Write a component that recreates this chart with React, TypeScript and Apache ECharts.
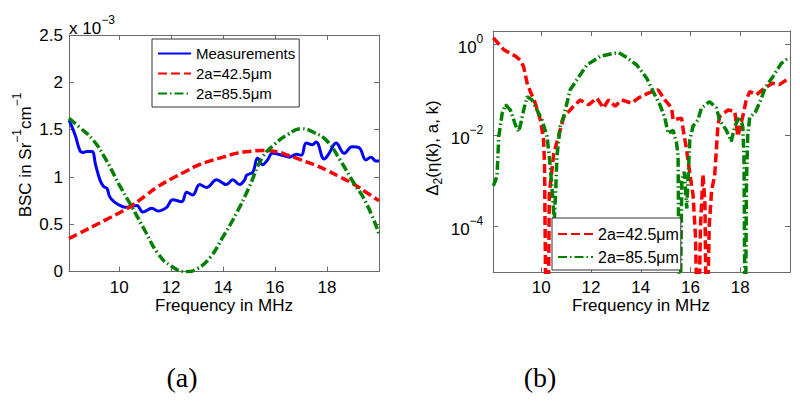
import React, { useEffect, useRef } from 'react';
import * as echarts from 'echarts';

// ---------- Panel (a): BSC (x 10^-3) vs frequency ----------
const measFreq = [8.07, 8.3, 8.49, 8.62, 8.76, 8.95, 9.1, 9.26, 9.4, 9.53, 9.64, 9.8, 10.03, 10.25, 10.49, 10.68, 10.91, 11.26, 11.49, 11.83, 12.06, 12.41, 12.6, 12.83, 13.1, 13.37, 13.75, 14.13, 14.37, 14.64, 14.83, 14.91, 15.14, 15.33, 15.52, 15.71, 15.9, 16.28, 16.55, 16.82, 17.01, 17.2, 17.43, 17.58, 17.89, 18.08, 18.35, 18.66, 18.96, 19.23, 19.5, 19.69, 19.88, 20];
const measBsc = [1.6, 1.45, 1.28, 1.26, 1.27, 1.27, 1.12, 0.97, 0.9, 0.88, 0.79, 0.74, 0.7, 0.68, 0.69, 0.7, 0.63, 0.67, 0.64, 0.68, 0.76, 0.74, 0.84, 0.81, 0.92, 0.89, 0.97, 0.92, 0.97, 0.92, 0.97, 1.02, 1.05, 1.2, 1.13, 1.18, 1.25, 1.23, 1.21, 1.24, 1.23, 1.36, 1.34, 1.37, 1.19, 1.25, 1.36, 1.25, 1.32, 1.31, 1.18, 1.21, 1.17, 1.17];

const modelFreqA = [8.07, 8.5, 9, 9.5, 10, 10.5, 11, 11.5, 12, 12.5, 13, 13.5, 14, 14.5, 15, 15.5, 16, 16.5, 17, 17.5, 18, 18.5, 19, 19.5, 20];
const bsc425 = [0.35, 0.41, 0.48, 0.55, 0.62, 0.7, 0.8, 0.9, 0.98, 1.05, 1.12, 1.17, 1.21, 1.25, 1.27, 1.28, 1.27, 1.23, 1.18, 1.13, 1.07, 1.0, 0.93, 0.84, 0.75];
const greenFreqA = [8.07, 8.5, 9, 9.5, 10, 10.5, 11, 11.5, 12, 12.6, 13, 13.5, 14, 14.5, 15, 15.5, 16, 16.5, 17, 17.5, 18, 18.5, 19, 19.5, 20];
const bsc855 = [1.62, 1.52, 1.39, 1.18, 0.92, 0.68, 0.43, 0.19, 0.06, 0.0, 0.03, 0.15, 0.37, 0.61, 0.89, 1.2, 1.35, 1.45, 1.51, 1.47, 1.38, 1.18, 0.95, 0.73, 0.4];

// ---------- Panel (b): Delta_2 (log scale) ----------
const redFreqB = [8.07, 8.3, 8.49, 8.75, 8.96, 9.15, 9.29, 9.43, 9.56, 9.76, 9.96, 10.03, 10.09, 10.13, 10.2, 10.27, 10.32, 10.5, 10.7, 10.9, 11.23, 11.56, 11.9, 12.23, 12.5, 12.7, 12.97, 13.23, 13.64, 13.9, 14.3, 14.7, 14.97, 15.24, 15.3, 15.64, 15.71, 15.84, 15.97, 16.1, 16.2, 16.3, 16.4, 16.5, 16.58, 16.65, 16.75, 16.85, 16.97, 17.04, 17.1, 17.17, 17.5, 17.78, 17.9, 18.1, 18.24, 18.38, 18.65, 18.98, 19.3, 19.57, 19.9, 20];
const delta425 = [1.38, 1.0, 0.76, 0.63, 0.55, 0.45, 0.32, 0.14, 0.091, 0.051, 0.022, 0.013, 0.0081, 0.0025, 1e-7, 1e-7, 0.0005, 0.004, 0.01, 0.025, 0.04, 0.06, 0.047, 0.066, 0.04, 0.06, 0.044, 0.06, 0.051, 0.066, 0.085, 0.1, 0.06, 0.04, 0.022, 0.024, 0.013, 0.0049, 0.0015, 0.0005, 0.000063, 1e-7, 0.0001, 0.0014, 0.00032, 1e-7, 0.0001, 0.00063, 0.0013, 0.0049, 0.016, 0.026, 0.036, 0.034, 0.0095, 0.026, 0.06, 0.091, 0.078, 0.11, 0.14, 0.13, 0.17, 0.17];
const greenFreqB = [8.07, 8.15, 8.22, 8.29, 8.43, 8.56, 8.76, 8.96, 9.09, 9.16, 9.29, 9.43, 9.63, 9.83, 10.03, 10.23, 10.29, 10.36, 10.45, 10.52, 10.58, 10.63, 10.76, 10.9, 11.16, 11.5, 11.83, 12.36, 12.9, 13.1, 13.37, 13.84, 14.24, 14.5, 14.77, 14.97, 15.1, 15.3, 15.44, 15.5, 15.56, 15.65, 15.75, 15.85, 15.97, 16.1, 16.3, 16.44, 16.77, 17.04, 17.17, 17.44, 17.64, 17.78, 17.98, 18.1, 18.15, 18.2, 18.25, 18.3, 18.38, 18.6, 18.8, 19.0, 19.3, 19.65, 19.85, 20];
const delta855 = [0.00079, 0.001, 0.0013, 0.0095, 0.031, 0.047, 0.036, 0.017, 0.012, 0.017, 0.036, 0.071, 0.06, 0.036, 0.022, 0.0095, 0.0049, 0.0021, 0.0005, 0.00013, 0.00063, 0.0035, 0.016, 0.026, 0.1, 0.19, 0.35, 0.54, 0.63, 0.66, 0.54, 0.35, 0.18, 0.091, 0.047, 0.024, 0.011, 0.013, 0.0068, 0.0035, 1e-7, 0.001, 0.0016, 0.00025, 0.0079, 0.016, 0.022, 0.04, 0.055, 0.04, 0.022, 0.013, 0.0074, 0.016, 0.026, 0.016, 0.0032, 1e-7, 0.001, 0.01, 0.025, 0.032, 0.056, 0.11, 0.19, 0.38, 0.46, 0.5];

const xTicks = [10, 12, 14, 16, 18];
const logTicks = [1e-4, 1e-2, 1];
const NAME_MEAS = 'Measurements';
const NAME_425 = '2a=42.5\u03bcm';
const NAME_855 = '2a=85.5\u03bcm';

const FONT = '"Liberation Sans", Arial, Helvetica, sans-serif';
const SERIF = '"Liberation Serif", "Times New Roman", serif';
const AXIS_COLOR = '#6a6a6a';

const zip = (xs: number[], ys: number[]) => xs.map((x, i) => [x, ys[i]]);

const supRich = {
  a: { fontSize: 17, fontFamily: FONT, color: '#000', lineHeight: 23, verticalAlign: 'bottom' },
  b: { fontSize: 12, fontFamily: FONT, color: '#000', lineHeight: 12, verticalAlign: 'top' },
};

function xAxisCfg(grid: number, pos: 'top' | 'bottom') {
  return {
    type: 'value',
    gridIndex: grid,
    position: pos,
    min: 8.07,
    max: 20,
    axisLine: { show: true, onZero: false, lineStyle: { color: AXIS_COLOR, width: 1 } },
    axisTick: { show: true, inside: true, length: 5, customValues: xTicks, lineStyle: { color: AXIS_COLOR } },
    axisLabel: pos === 'bottom'
      ? { show: true, customValues: xTicks, margin: 7, fontSize: 17, fontFamily: FONT, color: '#000' }
      : { show: false },
    splitLine: { show: false },
  };
}

function linYCfg(pos: 'left' | 'right') {
  return {
    type: 'value',
    gridIndex: 0,
    position: pos,
    min: 0,
    max: 2.5,
    interval: 0.5,
    axisLine: { show: true, onZero: false, lineStyle: { color: AXIS_COLOR, width: 1 } },
    axisTick: { show: true, inside: true, length: 5, lineStyle: { color: AXIS_COLOR } },
    axisLabel: pos === 'left'
      ? { show: true, margin: 6, fontSize: 17, fontFamily: FONT, color: '#000' }
      : { show: false },
    splitLine: { show: false },
  };
}

function logYCfg(pos: 'left' | 'right') {
  return {
    type: 'log',
    logBase: 10,
    gridIndex: 1,
    position: pos,
    min: 1e-5,
    max: 1.95,
    axisLine: { show: true, onZero: false, lineStyle: { color: AXIS_COLOR, width: 1 } },
    axisTick: { show: true, inside: true, length: 5, customValues: logTicks, lineStyle: { color: AXIS_COLOR } },
    minorTick: { show: false },
    axisLabel: pos === 'left'
      ? {
          show: true,
          customValues: logTicks,
          margin: 10,
          formatter: (v: number) => {
            const e = Math.round(Math.log10(v));
            return '{a|10}{b|' + (e < 0 ? '\u2212' + -e : String(e)) + '}';
          },
          rich: supRich,
        }
      : { show: false },
    splitLine: { show: false },
  };
}

export default function App() {
  const ref = useRef<HTMLDivElement>(null);
  useEffect(() => {
    if (!ref.current) return;
    const chart = echarts.init(ref.current, null, { renderer: 'svg' });
    const redDash = [9, 4];
    const greenDash = [9, 3, 1.5, 3];
    const legendCommon = {
      orient: 'vertical',
      itemHeight: 14,
      borderColor: '#333', borderWidth: 1, borderRadius: 0,
      backgroundColor: '#fff', selectedMode: false,
      itemStyle: { opacity: 0, borderWidth: 0 },
    };
    const option: any = {
      animation: false,
      backgroundColor: '#fff',
      textStyle: { fontFamily: FONT },
      grid: [
        { left: 69, top: 35, width: 310, height: 236.7, outerBoundsMode: 'none', containLabel: false },
        { left: 493.3, top: 31, width: 296.7, height: 241.3, outerBoundsMode: 'none', containLabel: false },
      ],
      xAxis: [xAxisCfg(0, 'bottom'), xAxisCfg(0, 'top'), xAxisCfg(1, 'bottom'), xAxisCfg(1, 'top')],
      yAxis: [linYCfg('left'), linYCfg('right'), logYCfg('left'), logYCfg('right')],
      legend: [
        {
          ...legendCommon,
          left: 152, top: 39,
          data: [NAME_MEAS, NAME_425, NAME_855],
          itemWidth: 33, itemGap: 5,
          padding: [7, 4, 6, 5],
          textStyle: { fontSize: 15, fontFamily: FONT, color: '#000' },
        },
        {
          ...legendCommon,
          left: 552, top: 218,
          data: [NAME_425, NAME_855],
          itemWidth: 35, itemGap: 7,
          padding: [8, 2, 5, 5],
          textStyle: { fontSize: 16, fontFamily: FONT, color: '#000' },
        },
      ],
      series: [
        {
          name: NAME_MEAS, type: 'line', xAxisIndex: 0, yAxisIndex: 0,
          data: zip(measFreq, measBsc), symbol: 'none', smooth: 0.4,
          lineStyle: { color: '#0000ff', width: 3 }, itemStyle: { color: '#0000ff' },
        },
        {
          name: NAME_425, type: 'line', xAxisIndex: 0, yAxisIndex: 0,
          data: zip(modelFreqA, bsc425), symbol: 'none', smooth: true,
          lineStyle: { color: '#ff0000', width: 3.5, type: redDash, cap: 'butt' }, itemStyle: { color: '#ff0000' },
        },
        {
          name: NAME_855, type: 'line', xAxisIndex: 0, yAxisIndex: 0,
          data: zip(greenFreqA, bsc855), symbol: 'none', smooth: true,
          lineStyle: { color: '#008000', width: 3.5, type: greenDash, cap: 'butt' }, itemStyle: { color: '#008000' },
        },
        {
          name: NAME_425, type: 'line', xAxisIndex: 2, yAxisIndex: 2,
          data: zip(redFreqB, delta425), symbol: 'none', clip: true,
          lineStyle: { color: '#ff0000', width: 3.5, type: redDash, cap: 'butt' }, itemStyle: { color: '#ff0000' },
        },
        {
          name: NAME_855, type: 'line', xAxisIndex: 2, yAxisIndex: 2,
          data: zip(greenFreqB, delta855), symbol: 'none', clip: true,
          lineStyle: { color: '#008000', width: 3.5, type: greenDash, cap: 'butt' }, itemStyle: { color: '#008000' },
        },
      ],
      graphic: [
        {
          type: 'text', left: 69, top: 14,
          style: { text: '{a|x 10}{b|\u22123}', rich: supRich },
        },
        {
          type: 'text', x: 22, y: 155, rotation: Math.PI / 2,
          style: {
            text: '{a|BSC in Sr}{b|\u22121}{a|cm}{b|\u22121}', rich: supRich,
            align: 'center', verticalAlign: 'middle',
          },
        },
        {
          type: 'text', x: 434, y: 148, rotation: Math.PI / 2,
          style: {
            text: '{a|\u0394}{s|2}{a|(\u03b7(k), a, k)}',
            rich: {
              a: { fontSize: 17, fontFamily: FONT, color: '#000', lineHeight: 20, verticalAlign: 'top' },
              s: { fontSize: 12, fontFamily: FONT, color: '#000', lineHeight: 12, verticalAlign: 'bottom' },
            },
            align: 'center', verticalAlign: 'middle',
          },
        },
        {
          type: 'text', x: 224, y: 305,
          style: { text: 'Frequency in MHz', fontSize: 17, fontFamily: FONT, fill: '#000', align: 'center', verticalAlign: 'middle' },
        },
        {
          type: 'text', x: 641, y: 305,
          style: { text: 'Frequency in MHz', fontSize: 17, fontFamily: FONT, fill: '#000', align: 'center', verticalAlign: 'middle' },
        },
        {
          type: 'text', x: 182, y: 377,
          style: { text: '(a)', fontSize: 28, fontFamily: SERIF, fill: '#000', align: 'center', verticalAlign: 'middle' },
        },
        {
          type: 'text', x: 540, y: 377,
          style: { text: '(b)', fontSize: 28, fontFamily: SERIF, fill: '#000', align: 'center', verticalAlign: 'middle' },
        },
      ],
    };
    chart.setOption(option);
    return () => chart.dispose();
  }, []);
  return (
    <div
      ref={ref}
      style={{ position: 'fixed', left: 0, top: 0, width: 800, height: 402, background: '#fff' }}
    />
  );
}
